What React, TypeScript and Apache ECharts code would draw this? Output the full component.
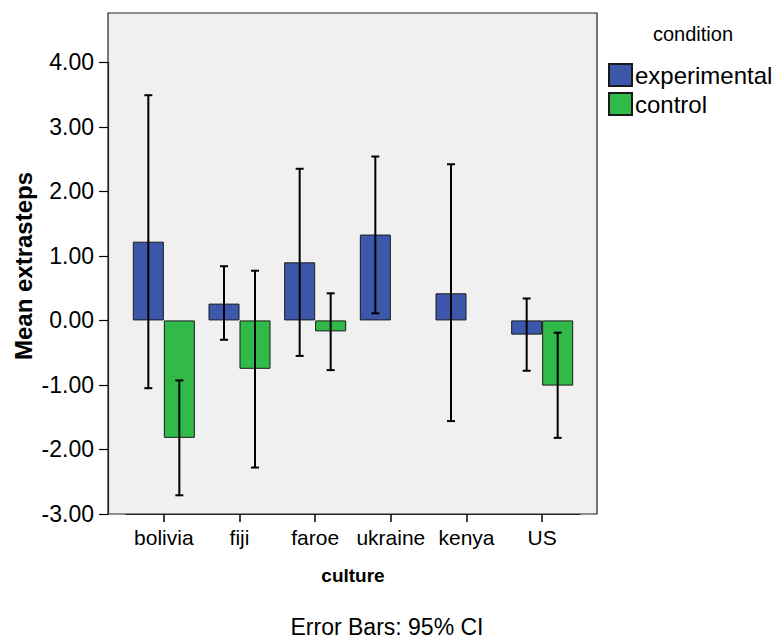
import React, { useEffect, useRef } from "react";
import * as echarts from "echarts";

const categories = ["bolivia", "fiji", "faroe", "ukraine", "kenya", "US"];
const seriesNames = ["experimental", "control"];
const expMean = [1.22, 0.26, 0.9, 1.33, 0.42, -0.22];
const expLow = [-1.05, -0.3, -0.55, 0.11, -1.56, -0.78];
const expHigh = [3.49, 0.84, 2.35, 2.54, 2.42, 0.34];
const ctrlMean = [-1.82, -0.75, -0.17, null, null, -1.01];
const ctrlLow = [-2.71, -2.28, -0.77, null, null, -1.82];
const ctrlHigh = [-0.93, 0.77, 0.42, null, null, -0.19];
const yTicks = { min: -3, max: 4, interval: 1 };

const BLUE = "#3D57AB";
const GREEN = "#31B94A";
const BAR_W = 31;
const FONT = "'Liberation Sans', Arial, sans-serif";

function errSeries(low: (number | null)[], high: (number | null)[], sign: number) {
  const data = categories
    .map((_, i) => [i, low[i], high[i]])
    .filter((d) => d[1] != null);
  return {
    type: "custom",
    z: 5,
    silent: true,
    encode: { x: 0, y: [1, 2] },
    data,
    renderItem: (params: any, api: any) => {
      const i = api.value(0);
      const lo = api.coord([i, api.value(1)]);
      const hi = api.coord([i, api.value(2)]);
      const x = lo[0] + (sign * BAR_W) / 2;
      const st = { stroke: "#000", lineWidth: 2 };
      return {
        type: "group",
        children: [
          { type: "line", shape: { x1: x, y1: lo[1], x2: x, y2: hi[1] }, style: st },
          { type: "line", shape: { x1: x - 4, y1: lo[1], x2: x + 4, y2: lo[1] }, style: st },
          { type: "line", shape: { x1: x - 4, y1: hi[1], x2: x + 4, y2: hi[1] }, style: st },
        ],
      };
    },
  };
}

export default function App() {
  const ref = useRef<HTMLDivElement>(null);
  useEffect(() => {
    if (!ref.current) return;
    const chart = echarts.init(ref.current, undefined, { renderer: "svg" });
    chart.setOption({
      animation: false,
      backgroundColor: "#fff",
      textStyle: { fontFamily: FONT },
      grid: { left: 126, right: 200, top: 62.3, bottom: 126, containLabel: false },
      graphic: [
        {
          type: "rect",
          z: 0,
          shape: { x: 108, y: 13, width: 489, height: 501 },
          style: { fill: "#F0F0F0", stroke: "#222", lineWidth: 1.2 },
        },
        {
          type: "text",
          x: 23,
          y: 266,
          rotation: Math.PI / 2,
          style: {
            text: "Mean extrasteps",
            font: `bold 24px ${FONT}`,
            fill: "#000",
            align: "center",
            verticalAlign: "middle",
          },
        },
        {
          type: "text",
          x: 693,
          y: 34,
          style: {
            text: "condition",
            font: `20px ${FONT}`,
            fill: "#000",
            align: "center",
            verticalAlign: "middle",
          },
        },
        {
          type: "text",
          x: 387,
          y: 627,
          style: {
            text: "Error Bars: 95% CI",
            font: `23px ${FONT}`,
            fill: "#000",
            align: "center",
            verticalAlign: "middle",
          },
        },
      ],
      legend: {
        data: seriesNames,
        orient: "vertical",
        left: 603,
        top: 58,
        icon: "rect",
        itemWidth: 23,
        itemHeight: 22,
        itemGap: 5,
        textStyle: { fontSize: 24, color: "#000", fontFamily: FONT, padding: [0, 0, 0, -2] },
      },
      xAxis: {
        type: "category",
        data: categories,
        name: "culture",
        nameLocation: "middle",
        nameGap: 52,
        nameTextStyle: { fontSize: 19, fontWeight: "bold", color: "#000", fontFamily: FONT },
        axisLine: { show: true, onZero: false, lineStyle: { color: "#222", width: 1.2 } },
        axisTick: {
          show: true,
          inside: false,
          alignWithLabel: true,
          interval: 0,
          length: 8,
          lineStyle: { color: "#000", width: 1.5 },
        },
        axisLabel: { fontSize: 21, color: "#000", margin: 13, interval: 0, fontFamily: FONT },
        splitLine: { show: false },
      },
      yAxis: {
        type: "value",
        min: yTicks.min,
        max: yTicks.max,
        interval: yTicks.interval,
        offset: 18,
        axisLine: { show: true, lineStyle: { color: "#222", width: 1.2 } },
        axisTick: { show: true, length: 9, lineStyle: { color: "#000", width: 1.2 } },
        axisLabel: {
          fontSize: 23,
          color: "#000",
          margin: 14,
          fontFamily: FONT,
          formatter: (v: number) => v.toFixed(2),
        },
        splitLine: { show: false },
      },
      series: [
        {
          name: "experimental",
          type: "bar",
          z: 3,
          data: expMean,
          barWidth: BAR_W,
          barGap: "0%",
          itemStyle: { color: BLUE, borderColor: "#1a1a1a", borderWidth: 1 },
        },
        {
          name: "control",
          type: "bar",
          z: 3,
          data: ctrlMean,
          barWidth: BAR_W,
          barGap: "0%",
          itemStyle: { color: GREEN, borderColor: "#1a1a1a", borderWidth: 1 },
        },
        errSeries(expLow, expHigh, -1),
        errSeries(ctrlLow, ctrlHigh, 1),
      ],
    });
    return () => chart.dispose();
  }, []);
  return (
    <div
      ref={ref}
      style={{ position: "fixed", left: 0, top: 0, width: 780, height: 640 }}
    />
  );
}
